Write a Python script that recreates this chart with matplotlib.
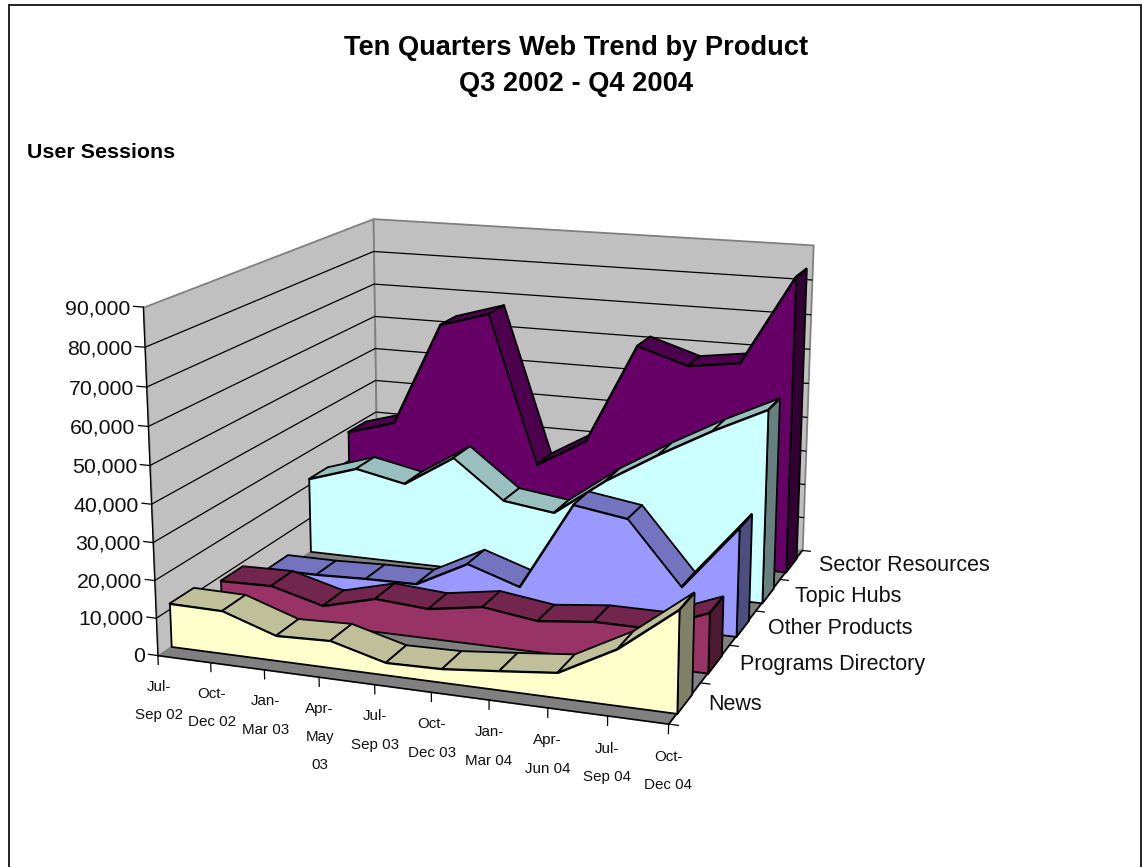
import numpy as np
import matplotlib
matplotlib.use("Agg")
import matplotlib.pyplot as plt
from matplotlib.patches import Rectangle
from mpl_toolkits.mplot3d import proj3d
from mpl_toolkits.mplot3d.art3d import Poly3DCollection

plt.rcParams['font.family'] = ['Liberation Sans', 'DejaVu Sans']

quarters = ["Jul-\nSep 02", "Oct-\nDec 02", "Jan-\nMar 03", "Apr-\nMay\n03", "Jul-\nSep 03",
            "Oct-\nDec 03", "Jan-\nMar 04", "Apr-\nJun 04", "Jul-\nSep 04", "Oct-\nDec 04"]
series_names = ["News", "Programs Directory", "Other Products", "Topic Hubs", "Sector Resources"]
value_ticks = [0, 10000, 20000, 30000, 40000, 50000, 60000, 70000, 80000, 90000]

news = [11600, 11400, 6600, 7100, 3200, 3500, 4900, 6400, 14300, 25900]
programs = [8800, 9100, 5300, 9000, 8000, 10300, 8300, 9900, 9900, 15800]
other_products = [3400, 3400, 3900, 4100, 11500, 6700, 31100, 28800, 11800, 29400]
topic_hubs = [21900, 26400, 23400, 32400, 21400, 19400, 30100, 38900, 46900, 54000]
sector_resources = [28900, 33100, 63800, 68100, 24400, 32900, 62000, 57400, 59400, 84700]
series = [news, programs, other_products, topic_hubs, sector_resources]

face_colors = ["#FFFFCC", "#993366", "#9999FF", "#CCFFFF", "#660066"]
top_colors = ["#BFBF99", "#73264D", "#7373BF", "#99BFBF", "#4D004D"]
side_colors = ["#808066", "#4D1A33", "#4D4D80", "#668080", "#330033"]

W, H = 1142, 867
# camera and placement fitted to the box corners of the chart
SCALE, TX, TY = 4224.14, 502.35, 439.7

fig = plt.figure(figsize=(W / 100, H / 100), dpi=100)
fig.add_artist(Rectangle((9 / W, -0.02), 1132 / W, 1.02 - 5 / H, transform=fig.transFigure,
                         fill=False, ec='#222222', lw=1.4))
ax = fig.add_subplot(projection='3d')
ax.set_xlim(0, 9); ax.set_ylim(0, 5); ax.set_zlim(0, 90000)
ax.view_init(elev=14.8612, azim=-70.0397, roll=0)
ax.set_proj_type('persp', focal_length=0.5313)
ax.set_box_aspect((1.492, 1.5776, 1.0))
ax.set_axis_off()
ax.computed_zorder = False
ax.patch.set_visible(False)
v = ax.viewLim
ax.set_position([(TX + SCALE * v.x0) / W, (H - TY + SCALE * v.y0) / H,
                 SCALE * v.width / W, SCALE * v.height / H])


def add_poly(polys, fc, ec, lw, z):
    coll = Poly3DCollection(polys, facecolors=fc, edgecolors=ec, linewidths=lw, zorder=z)
    ax.add_collection3d(coll, autolim=False)


def label(x, y, z, s, **kw):
    u, w, _ = proj3d.proj_transform(x, y, z, ax.get_proj())
    ax.text2D(u, w, s, transform=ax.transData, color='#111111', **kw)


n = len(quarters)
x_end = n - 1
z_max = value_ticks[-1]
n_series = len(series_names)
wall_edge = '#808080'

# walls and floor
add_poly([[(0, 0, 0), (0, n_series, 0), (0, n_series, z_max), (0, 0, z_max)]], '#C0C0C0', wall_edge, 1.3, 1)
add_poly([[(0, n_series, 0), (x_end, n_series, 0), (x_end, n_series, z_max), (0, n_series, z_max)]], '#C0C0C0', wall_edge, 1.3, 1)
add_poly([[(0, 0, 0), (x_end, 0, 0), (x_end, n_series, 0), (0, n_series, 0)]], '#808080', '#808080', 0.8, 2)
for val in value_ticks[1:-1]:
    ax.plot([0, 0, x_end], [0, n_series, n_series], [val, val, val], color='k', lw=0.9, zorder=3)

# axis lines and ticks
ax.plot([0, 0], [0, 0], [0, z_max], color='k', lw=0.9, zorder=3)
ax.plot([0, x_end, x_end], [0, 0, n_series], [0, 0, 0], color='k', lw=1.1, zorder=3)
for val in value_ticks:
    ax.plot([-0.18, 0], [0, 0], [val, val], color='k', lw=0.9, zorder=3)
    label(-0.24, 0, val - 700, f"{val:,}", ha='right', va='center', fontsize=15.3)
for i, name in enumerate(quarters):
    ax.plot([i, i], [0, 0], [-2400, 0], color='k', lw=0.9, zorder=3)
    label(i, 0, -6500, name, ha='center', va='top', fontsize=10.9, linespacing=2.3)
for i in range(n_series + 1):
    ax.plot([x_end, x_end + 0.16], [i, i], [0, 0], color='k', lw=0.9, zorder=3)
for i, name in enumerate(series_names):
    label(x_end + 0.39 + 0.035 * i, i + 0.5, 500, name, ha='left', va='center', fontsize=15.5)

# area bands, back to front
for i in reversed(range(n_series)):
    vals = series[i]
    y0, y1 = i + 0.25, i + 0.72
    base = 10 + (n_series - i) * 10
    tops = [[(k, y0, vals[k]), (k + 1, y0, vals[k + 1]), (k + 1, y1, vals[k + 1]), (k, y1, vals[k])]
            for k in range(n - 1)]
    add_poly(tops, top_colors[i], 'k', 1.3, base)
    cap = [(x_end, y0, 0), (x_end, y1, 0), (x_end, y1, vals[-1]), (x_end, y0, vals[-1])]
    add_poly([cap], side_colors[i], 'k', 1.3, base + 1)
    front = [(k, y0, vals[k]) for k in range(n)] + [(x_end, y0, 0), (0, y0, 0)]
    add_poly([front], face_colors[i], 'k', 1.3, base + 2)

fig.text(576 / W, 1 - 48 / H, "Ten Quarters Web Trend by Product", ha='center', va='center',
         fontsize=19.6, fontweight='bold', color='k')
fig.text(576 / W, 1 - 84 / H, "Q3 2002 - Q4 2004", ha='center', va='center',
         fontsize=19.6, fontweight='bold', color='k')
fig.text(27 / W, 1 - 152 / H, "User Sessions", ha='left', va='center',
         fontsize=15.4, fontweight='bold', color='k')

fig.savefig('out.png')
